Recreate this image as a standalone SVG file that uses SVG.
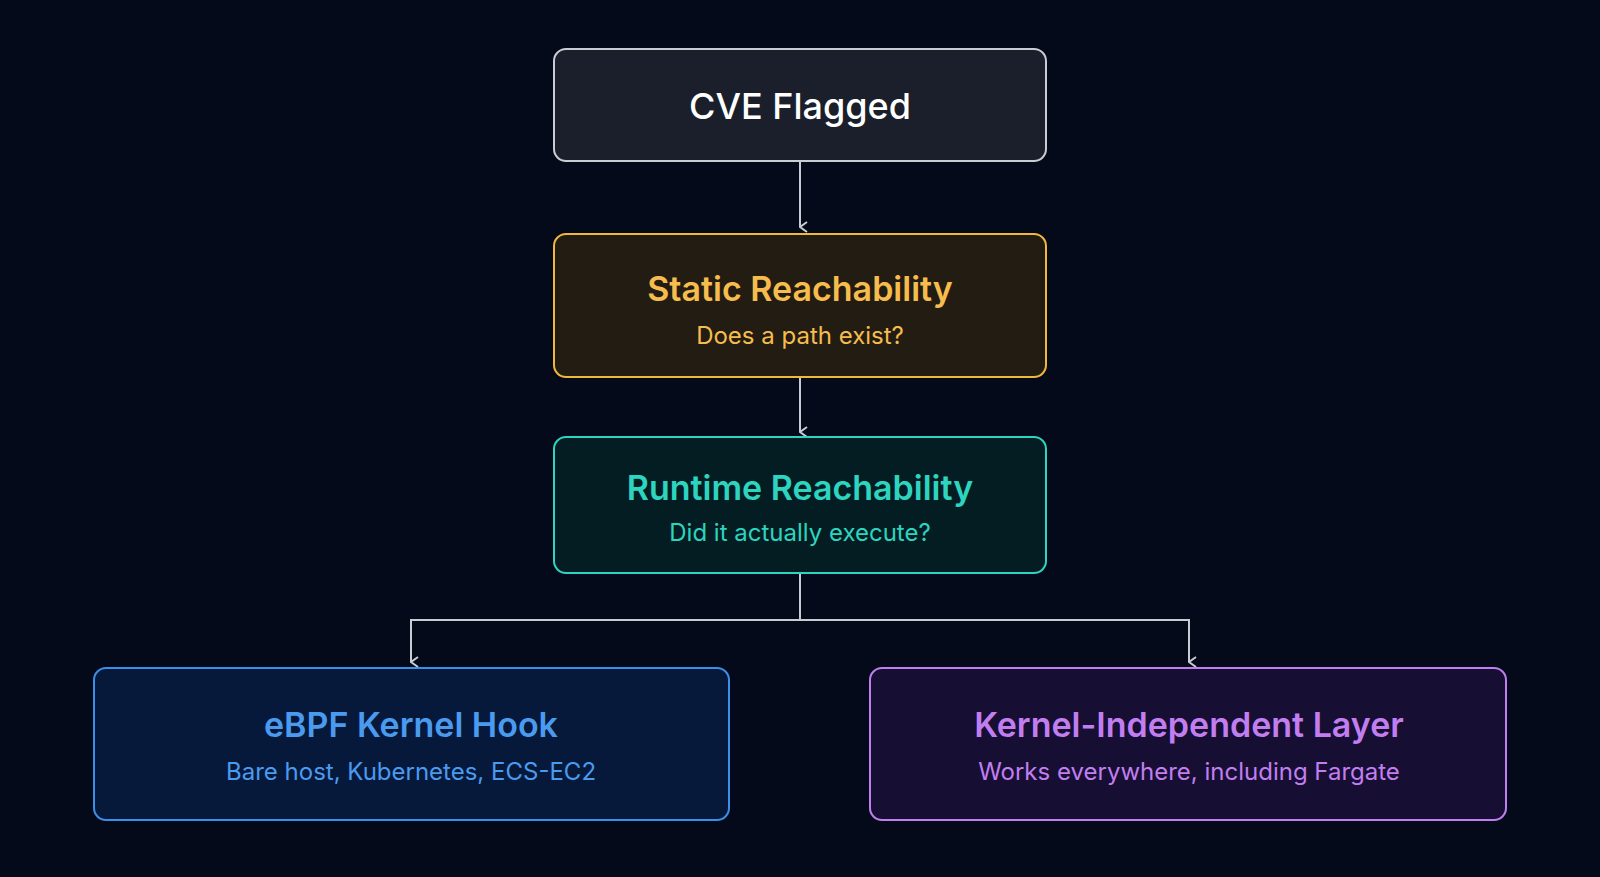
<svg xmlns="http://www.w3.org/2000/svg" width="1600" height="877" viewBox="0 0 1600 877">
<style>
.t{font-family:Inter,"Noto Sans",sans-serif;text-anchor:middle;dominant-baseline:central}
.h{font-size:34px;font-weight:600}
.s{font-size:24px}
.c{stroke:#c9ccd2;stroke-width:2;fill:none}
</style>
<defs>
<marker id="a" viewBox="0 0 12 12" refX="6" refY="11" markerWidth="12" markerHeight="12" markerUnits="userSpaceOnUse" orient="auto-start-reverse">
<path d="M1 4 L6 11 L11 4" fill="none" stroke="#c9ccd2" stroke-width="2"/>
</marker>
</defs>
<rect width="1600" height="877" fill="#040a1a"/>
<g id="connectors">
<path class="c" d="M800 162 V227" marker-end="url(#a)"/>
<path class="c" d="M800 378 V432" marker-end="url(#a)"/>
<path class="c" d="M800 574 V620 H411 V662" marker-end="url(#a)"/>
<path class="c" d="M800 620 H1189 V662" marker-end="url(#a)"/>
</g>
<g id="cve">
<rect x="554" y="49" width="492" height="112" rx="12" fill="#1a1f2b" stroke="#c9ccd2" stroke-width="2"/>
<text class="t" x="800" y="106" font-size="36" font-weight="500" fill="#ffffff">CVE Flagged</text>
</g>
<g id="static">
<rect x="554" y="234" width="492" height="143" rx="12" fill="#231c12" stroke="#f1b93a" stroke-width="2"/>
<text class="t h" x="800" y="288" fill="#f6bd4e">Static Reachability</text>
<text class="t s" x="800" y="335" fill="#f6bd4e">Does a path exist?</text>
</g>
<g id="runtime">
<rect x="554" y="437" width="492" height="136" rx="12" fill="#041d22" stroke="#2dd4bf" stroke-width="2"/>
<text class="t h" x="800" y="487" fill="#2dd4bf">Runtime Reachability</text>
<text class="t s" x="800" y="532" fill="#2dd4bf">Did it actually execute?</text>
</g>
<g id="ebpf">
<rect x="94" y="668" width="635" height="152" rx="12" fill="#07193a" stroke="#3b8fe8" stroke-width="2"/>
<text class="t h" x="411" y="724" fill="#4a9bf0">eBPF Kernel Hook</text>
<text class="t s" x="411" y="771" fill="#4a9bf0">Bare host, Kubernetes, ECS-EC2</text>
</g>
<g id="kernelindep">
<rect x="870" y="668" width="636" height="152" rx="12" fill="#160f33" stroke="#c27ef0" stroke-width="2"/>
<text class="t h" x="1189" y="724" fill="#c27ef0">Kernel-Independent Layer</text>
<text class="t s" x="1189" y="771" fill="#c27ef0">Works everywhere, including Fargate</text>
</g>
</svg>
